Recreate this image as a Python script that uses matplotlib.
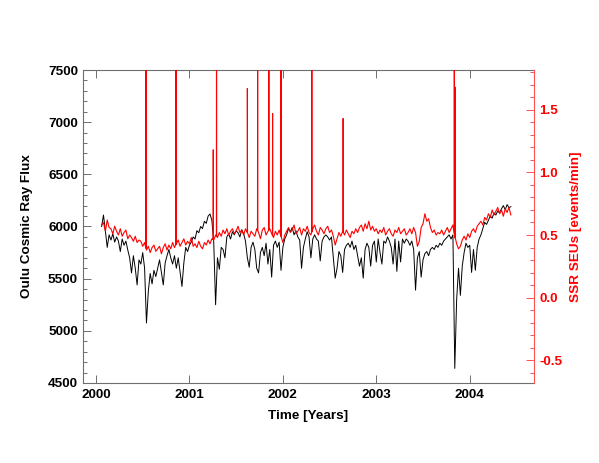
import numpy as np
import matplotlib
matplotlib.use("Agg")
import matplotlib.pyplot as plt
from matplotlib.ticker import MultipleLocator, FormatStrFormatter

plt.rcParams['font.family'] = ['Liberation Sans', 'DejaVu Sans']
plt.rcParams['font.weight'] = 'bold'

# sampling grid (decimal years, every 0.02 yr)
years = np.round(np.arange(2000.06, 2004.441, 0.02), 2)

# Oulu neutron monitor count rate
oulu_flux = [
    6000, 6110, 5960, 5800, 5920, 5870, 5930, 5850, 5900, 5860,
    5760, 5880, 5820, 5860, 5775, 5700, 5555, 5720, 5600, 5440,
    5680, 5640, 5750, 5600, 5075, 5380, 5550, 5450, 5580, 5520,
    5600, 5680, 5560, 5440, 5650, 5720, 5780, 5700, 5640, 5720,
    5600, 5700, 5560, 5425, 5650, 5800, 5760, 5820, 5850, 5900,
    5880, 5960, 5940, 6000, 5980, 6050, 6030, 6100, 6120, 6060,
    5850, 5250, 5700, 5590, 5800, 5780, 5700, 5900, 5930, 5880,
    5950, 5920, 5960, 5940, 5900, 5970, 5930, 5860, 5700, 5610,
    5800, 5850, 5780, 5600, 5555, 5750, 5800, 5720, 5840, 5640,
    5780, 5515, 5820, 5860, 5800, 5850, 5580, 5800, 5880, 5920,
    5980, 5950, 5990, 5920, 5960, 5900, 5870, 5600, 5800, 5880,
    5950, 5900, 5700, 5880, 5920, 5880, 5860, 5670, 5860, 5900,
    5920, 5900, 5870, 5900, 5700, 5505, 5600, 5760, 5720, 5560,
    5780, 5820, 5840, 5800, 5860, 5780, 5820, 5720, 5620, 5700,
    5505, 5780, 5840, 5800, 5620, 5820, 5860, 5660, 5880, 5750,
    5640, 5860, 5840, 5900, 5860, 5800, 5640, 5880, 5570, 5860,
    5660, 5880, 5840, 5880, 5860, 5820, 5860, 5780, 5390, 5700,
    5760, 5515, 5680, 5740, 5760, 5720, 5780, 5800, 5780, 5820,
    5800, 5840, 5820, 5860, 5880, 5900, 5920, 5880, 5920, 4640,
    5300, 5600, 5340, 5620, 5750, 5840, 5800, 5820, 5560, 5780,
    5580, 5800, 5880, 5920, 5980, 6040, 6020, 6060, 6100, 6080,
    6130, 6110, 6150, 6130, 6170, 6200, 6160, 6210, 6180, 6190,
]

# SSR single event upsets, events/min (red curve, quiet level)
seu_rate = [
    0.58, 0.60, 0.53, 0.62, 0.56, 0.55, 0.51, 0.57, 0.53, 0.50,
    0.55, 0.49, 0.52, 0.54, 0.47, 0.50, 0.48, 0.45, 0.49, 0.44,
    0.46, 0.45, 0.41, 0.44, 0.38, 0.41, 0.36, 0.40, 0.42, 0.37,
    0.39, 0.41, 0.35, 0.40, 0.43, 0.38, 0.42, 0.39, 0.44, 0.40,
    0.43, 0.46, 0.41, 0.44, 0.47, 0.42, 0.45, 0.43, 0.48, 0.41,
    0.43, 0.40, 0.45, 0.41, 0.39, 0.44, 0.42, 0.46, 0.43, 0.47,
    0.46, 0.50, 0.48, 0.52, 0.49, 0.54, 0.51, 0.55, 0.50, 0.53,
    0.55, 0.51, 0.53, 0.57, 0.52, 0.54, 0.50, 0.55, 0.52, 0.48,
    0.53, 0.51, 0.49, 0.55, 0.52, 0.47, 0.54, 0.56, 0.50, 0.53,
    0.55, 0.51, 0.48, 0.53, 0.50, 0.54, 0.49, 0.44, 0.50, 0.53,
    0.56, 0.52, 0.54, 0.58, 0.51, 0.53, 0.56, 0.50, 0.55, 0.53,
    0.57, 0.52, 0.50, 0.55, 0.58, 0.53, 0.50, 0.56, 0.54, 0.51,
    0.55, 0.57, 0.52, 0.54, 0.49, 0.42, 0.47, 0.52, 0.49, 0.53,
    0.50, 0.54, 0.51, 0.48, 0.53, 0.51, 0.55, 0.52, 0.56, 0.58,
    0.53, 0.59, 0.55, 0.61, 0.54, 0.57, 0.53, 0.55, 0.51, 0.54,
    0.52, 0.56, 0.50, 0.53, 0.55, 0.51, 0.49, 0.54, 0.52, 0.56,
    0.51, 0.53, 0.55, 0.50, 0.52, 0.55, 0.51, 0.56, 0.52, 0.41,
    0.45, 0.56, 0.59, 0.67, 0.61, 0.63, 0.56, 0.52, 0.54, 0.50,
    0.52, 0.51, 0.54, 0.50, 0.53, 0.56, 0.52, 0.55, 0.58, 0.49,
    0.43, 0.39, 0.41, 0.46, 0.49, 0.46, 0.51, 0.48, 0.53, 0.55,
    0.52, 0.57, 0.59, 0.61, 0.58, 0.64, 0.62, 0.67, 0.64, 0.70,
    0.66, 0.69, 0.72, 0.67, 0.70, 0.65, 0.71, 0.68, 0.72, 0.66,
]

# SEU spikes (solar particle events); peaks above 1.8 run off the top
spike_years = [2000.535, 2000.856, 2001.255, 2001.29, 2001.62, 2001.73, 2001.85,
               2001.89, 2001.98, 2002.31, 2002.645, 2003.835, 2003.845]
spike_peaks = [2.5, 2.5, 1.18, 2.5, 1.67, 2.5, 2.5,
               1.47, 2.5, 2.5, 1.43, 2.5, 1.68]

# merge spikes into the SEU series
sy = np.array(spike_years)
base = np.interp(sy, years, seu_rate)
t_seu = np.concatenate([years, sy - 0.0015, sy, sy + 0.0015])
v_seu = np.concatenate([seu_rate, base, spike_peaks, base])
order = np.argsort(t_seu, kind='stable')
t_seu, v_seu = t_seu[order], v_seu[order]

fig = plt.figure(figsize=(5.99, 4.63), dpi=100)
ax = fig.add_axes([0.1386, 0.1728, 0.7529, 0.676])
ax.plot(years, oulu_flux, color='black', lw=0.7)
ax.set_xlim(1999.861, 2004.688)
ax.set_ylim(4500, 7500)
ax.xaxis.set_major_locator(MultipleLocator(1))
ax.xaxis.set_major_formatter(FormatStrFormatter('%d'))
ax.yaxis.set_major_locator(MultipleLocator(500))
ax.yaxis.set_minor_locator(MultipleLocator(100))

gray = '#6e6e6e'
for s in ['left', 'bottom', 'top']:
    ax.spines[s].set_color(gray)
    ax.spines[s].set_linewidth(0.8)
ax.spines['right'].set_visible(False)
ax.tick_params(axis='x', which='major', direction='in', length=5.5, width=0.7,
               color=gray, top=True, pad=4, labelsize=9.7)
ax.tick_params(axis='y', which='major', direction='in', length=5.8, width=0.7,
               color=gray, pad=3.6, labelsize=9.7)
ax.tick_params(axis='y', which='minor', direction='in', length=2.9, width=0.7,
               color=gray)
ax.set_xlabel('Time [Years]', fontsize=9.7, fontweight='bold')
ax.xaxis.set_label_coords(0.5, -0.086)
ax.set_ylabel('Oulu Cosmic Ray Flux', fontsize=9.7, fontweight='bold')
ax.yaxis.set_label_coords(-0.111, 0.5)

ax2 = ax.twinx()
ax2.plot(t_seu, v_seu, color='red', lw=0.8)
ax2.set_ylim(-0.681, 1.817)
ax2.yaxis.set_major_locator(MultipleLocator(0.5))
ax2.yaxis.set_minor_locator(MultipleLocator(0.1))
ax2.yaxis.set_major_formatter(FormatStrFormatter('%.1f'))
for s in ['left', 'bottom', 'top']:
    ax2.spines[s].set_visible(False)
ax2.spines['right'].set_color('#ff5050')
ax2.spines['right'].set_linewidth(0.8)
ax2.tick_params(axis='y', which='major', direction='in', length=5.8, width=0.7,
                color='#ff5050', labelcolor='red', pad=3.6, labelsize=9.7)
ax2.tick_params(axis='y', which='minor', direction='in', length=2.9, width=0.7,
                color='#ff5050')
ax2.set_ylabel('SSR SEUs [events/min]', color='red', fontsize=9.7, fontweight='bold')
ax2.yaxis.set_label_coords(1.080, 0.5)

fig.savefig('out.png', dpi=100)
